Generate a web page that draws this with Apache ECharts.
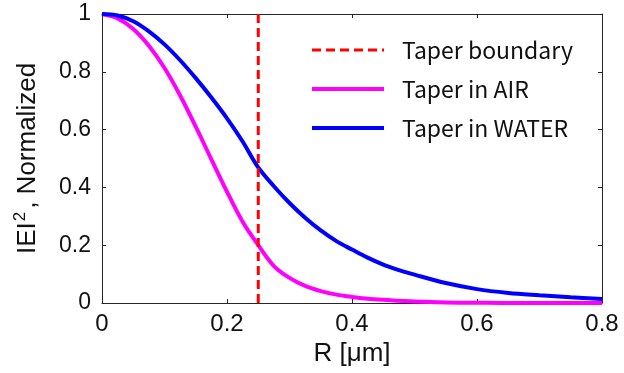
<!DOCTYPE html>
<html>
<head>
<meta charset="utf-8">
<script src="https://cdn.jsdelivr.net/npm/echarts@6/dist/echarts.min.js"></script>
<style>html,body{margin:0;padding:0;background:#fff}#c{width:624px;height:373px}</style>
</head>
<body>
<div id="c"></div>
<script>
const rValues = [0, 0.025, 0.05, 0.075, 0.1, 0.125, 0.15, 0.175, 0.2, 0.225, 0.25, 0.275, 0.3, 0.325, 0.35, 0.375, 0.4, 0.425, 0.45, 0.475, 0.5, 0.55, 0.6, 0.65, 0.7, 0.75, 0.8];
const airValues = [1.0, 0.985, 0.948, 0.890, 0.813, 0.718, 0.610, 0.497, 0.385, 0.281, 0.200, 0.128, 0.087, 0.059, 0.041, 0.029, 0.021, 0.015, 0.011, 0.008, 0.005, 0.002, 0.001, 0.0, 0.0, 0.0, 0.0];
const waterValues = [1.0, 0.995, 0.975, 0.940, 0.895, 0.840, 0.778, 0.711, 0.639, 0.559, 0.469, 0.404, 0.346, 0.295, 0.251, 0.214, 0.185, 0.157, 0.133, 0.114, 0.098, 0.069, 0.048, 0.035, 0.027, 0.020, 0.014];
const boundaryR = 0.25;
const boundaryY = [0, 1];
const seriesNames = ['Taper boundary', 'Taper in AIR', 'Taper in WATER'];

const zip = (xs, ys) => xs.map((x, i) => [x, ys[i]]);
const axisColor = '#262626';
const font = '"Liberation Sans", Arial, sans-serif';

const chart = echarts.init(document.getElementById('c'), null, {renderer: 'canvas'});
chart.setOption({
  animation: false,
  backgroundColor: '#fff',
  grid: {left: 102, right: 22, top: 14, bottom: 70},
  legend: {
    data: seriesNames,
    orient: 'vertical',
    left: 305, top: 33,
    itemWidth: 72, itemHeight: 16, itemGap: 15,
    itemStyle: {opacity: 0},
    lineStyle: {width: 'inherit'},
    textStyle: {fontFamily: '"Noto Sans CJK KR", "Noto Sans", sans-serif', fontSize: 23, lineHeight: 24, color: '#111', padding: [0, 0, 0, 13]}
  },
  xAxis: [{
    type: 'value', min: 0, max: 0.8, interval: 0.2,
    name: 'R [μm]', nameLocation: 'middle', nameGap: 38,
    nameTextStyle: {fontFamily: font, fontSize: 26, color: '#111'},
    axisLine: {show: true, onZero: false, lineStyle: {color: axisColor, width: 1}},
    axisTick: {show: true, inside: true, length: 4, lineStyle: {color: axisColor}},
    axisLabel: {fontFamily: font, fontSize: 24, color: '#111', margin: 9, formatter: v => String(v)},
    splitLine: {show: false}
  }, {
    type: 'value', min: 0, max: 0.8, interval: 0.2, position: 'top',
    axisLine: {show: true, onZero: false, lineStyle: {color: axisColor, width: 1}},
    axisTick: {show: true, inside: true, length: 4, lineStyle: {color: axisColor}},
    axisLabel: {show: false}, splitLine: {show: false}
  }],
  yAxis: [{
    type: 'value', min: 0, max: 1, interval: 0.2,
    name: '{n|IEI}{s|2}{n|, Normalized}', nameLocation: 'middle', nameGap: 59,
    nameTextStyle: {
      fontFamily: font, fontSize: 26, color: '#111',
      rich: {
        n: {fontFamily: font, fontSize: 26, color: '#111'},
        s: {fontFamily: font, fontSize: 17, color: '#111', padding: [0, 3, 14, 1]}
      }
    },
    axisLine: {show: true, onZero: false, lineStyle: {color: axisColor, width: 1}},
    axisTick: {show: true, inside: true, length: 4, lineStyle: {color: axisColor}},
    axisLabel: {fontFamily: font, fontSize: 23, color: '#111', margin: 11, formatter: v => String(v)},
    splitLine: {show: false}
  }, {
    type: 'value', min: 0, max: 1, interval: 0.2, position: 'right',
    axisLine: {show: true, onZero: false, lineStyle: {color: axisColor, width: 1}},
    axisTick: {show: true, inside: true, length: 4, lineStyle: {color: axisColor}},
    axisLabel: {show: false}, splitLine: {show: false}
  }],
  series: [{
    name: seriesNames[0], type: 'line', symbol: 'none', z: 4,
    data: boundaryY.map(y => [boundaryR, y]),
    lineStyle: {color: '#ff0000', width: 3, type: [9, 5]},
    itemStyle: {color: '#ff0000'}
  }, {
    name: seriesNames[1], type: 'line', symbol: 'none', smooth: 0.35, z: 3,
    data: zip(rValues, airValues),
    lineStyle: {color: '#ff00ff', width: 4},
    itemStyle: {color: '#ff00ff'}
  }, {
    name: seriesNames[2], type: 'line', symbol: 'none', smooth: 0.35, z: 3,
    data: zip(rValues, waterValues),
    lineStyle: {color: '#0000ff', width: 4},
    itemStyle: {color: '#0000ff'}
  }]
});
</script>
</body>
</html>
